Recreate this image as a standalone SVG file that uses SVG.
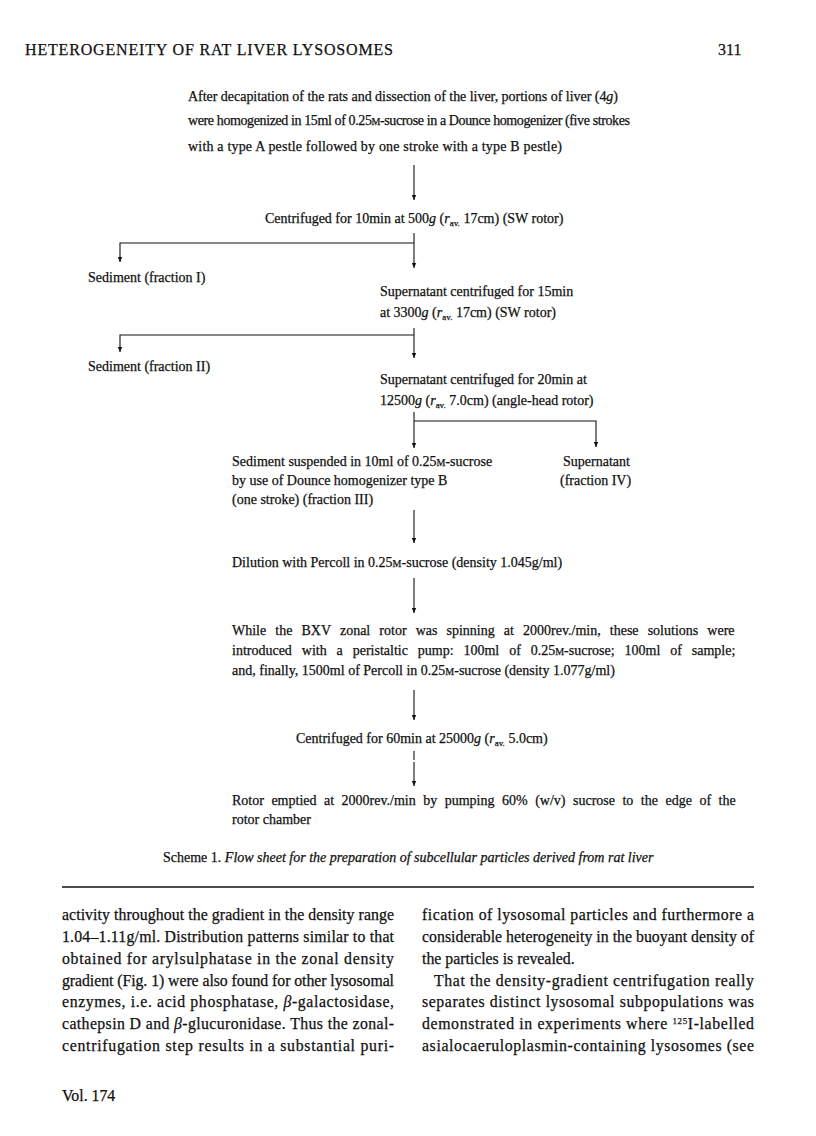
<svg xmlns="http://www.w3.org/2000/svg" width="816" height="1136" viewBox="0 0 816 1136">
<style>
text{font-family:"Liberation Serif","Times New Roman",serif;fill:#111;stroke:#111;stroke-width:0.25;}
.t{font-size:14px;}
.h{font-size:16px;}
.b{font-size:15.8px;}
.sm{font-size:10px;}
.sub{font-size:9px;}
.i{font-style:italic;}
.c line,.c polyline{stroke:#111;stroke-width:1.1;fill:none;}
</style>
<defs>
<marker id="ad" viewBox="0 0 8 10" refX="4" refY="9" markerWidth="5" markerHeight="6" markerUnits="userSpaceOnUse" orient="0">
<path d="M0,0 L4,9 L8,0 Z" fill="#111"/>
</marker>
</defs>
<rect width="816" height="1136" fill="#fff"/>

<g id="header">
<text class="h" x="25" y="55" textLength="368" lengthAdjust="spacing">HETEROGENEITY OF RAT LIVER LYSOSOMES</text>
<text class="h" x="718" y="55">311</text>
</g>

<g id="n1">
<text class="t" x="188" y="101" textLength="430" lengthAdjust="spacing">After decapitation of the rats and dissection of the liver, portions of liver (4<tspan class="i">g</tspan>)</text>
<text class="t" x="188" y="125" textLength="442" lengthAdjust="spacing">were homogenized in 15ml of 0.25<tspan class="sm">M</tspan>-sucrose in a Dounce homogenizer (five strokes</text>
<text class="t" x="188" y="151" textLength="374" lengthAdjust="spacing">with a type A pestle followed by one stroke with a type B pestle)</text>
</g>

<g id="n2">
<text class="t" x="265" y="223">Centrifuged for 10min at 500<tspan class="i">g</tspan> (<tspan class="i">r</tspan><tspan class="sub" dy="3">av.</tspan><tspan dy="-3"> 17cm) (SW rotor)</tspan></text>
</g>

<g id="n3">
<text class="t" x="88" y="282">Sediment (fraction I)</text>
</g>

<g id="n4">
<text class="t" x="380" y="296">Supernatant centrifuged for 15min</text>
<text class="t" x="380" y="317">at 3300<tspan class="i">g</tspan> (<tspan class="i">r</tspan><tspan class="sub" dy="3">av.</tspan><tspan dy="-3"> 17cm) (SW rotor)</tspan></text>
</g>

<g id="n5">
<text class="t" x="88" y="371">Sediment (fraction II)</text>
</g>

<g id="n6">
<text class="t" x="380" y="384">Supernatant centrifuged for 20min at</text>
<text class="t" x="380" y="405">12500<tspan class="i">g</tspan> (<tspan class="i">r</tspan><tspan class="sub" dy="3">av.</tspan><tspan dy="-3"> 7.0cm) (angle-head rotor)</tspan></text>
</g>

<g id="n7">
<text class="t" x="232" y="466">Sediment suspended in 10ml of 0.25<tspan class="sm">M</tspan>-sucrose</text>
<text class="t" x="232" y="485">by use of Dounce homogenizer type B</text>
<text class="t" x="232" y="504">(one stroke) (fraction III)</text>
</g>

<g id="n8">
<text class="t" x="563" y="466">Supernatant</text>
<text class="t" x="560" y="485">(fraction IV)</text>
</g>

<g id="n9">
<text class="t" x="232" y="567">Dilution with Percoll in 0.25<tspan class="sm">M</tspan>-sucrose (density 1.045g/ml)</text>
</g>

<g id="n10">
<text class="t" x="232" y="635" style="word-spacing:5.6px">While the BXV zonal rotor was spinning at 2000rev./min, these solutions were</text>
<text class="t" x="232" y="655" style="word-spacing:6.4px">introduced with a peristaltic pump: 100ml of 0.25<tspan class="sm">M</tspan>-sucrose; 100ml of sample;</text>
<text class="t" x="232" y="675">and, finally, 1500ml of Percoll in 0.25<tspan class="sm">M</tspan>-sucrose (density 1.077g/ml)</text>
</g>

<g id="n11">
<text class="t" x="296" y="743">Centrifuged for 60min at 25000<tspan class="i">g</tspan> (<tspan class="i">r</tspan><tspan class="sub" dy="3">av.</tspan><tspan dy="-3"> 5.0cm)</tspan></text>
</g>

<g id="n12">
<text class="t" x="232" y="805" style="word-spacing:4px">Rotor emptied at 2000rev./min by pumping 60% (w/v) sucrose to the edge of the</text>
<text class="t" x="232" y="824">rotor chamber</text>
</g>

<g id="caption">
<text class="t" x="163" y="862">Scheme 1. <tspan class="i">Flow sheet for the preparation of subcellular particles derived from rat liver</tspan></text>
</g>

<g id="connectors" class="c">
<line x1="414" y1="165" x2="414" y2="200" marker-end="url(#ad)"/>
<line x1="414" y1="233" x2="414" y2="268" marker-end="url(#ad)"/>
<polyline points="414,243 120,243 120,262" marker-end="url(#ad)"/>
<line x1="414" y1="328" x2="414" y2="358" marker-end="url(#ad)"/>
<polyline points="414,335 120,335 120,352" marker-end="url(#ad)"/>
<line x1="414" y1="412" x2="414" y2="448" marker-end="url(#ad)"/>
<polyline points="414,421 596,421 596,447" marker-end="url(#ad)"/>
<line x1="414" y1="510" x2="414" y2="543" marker-end="url(#ad)"/>
<line x1="414" y1="578" x2="414" y2="613" marker-end="url(#ad)"/>
<line x1="414" y1="690" x2="414" y2="720" marker-end="url(#ad)"/>
<line x1="414" y1="751" x2="414" y2="760"/>
<line x1="414" y1="762" x2="414" y2="786" marker-end="url(#ad)"/>
</g>

<g id="rule">
<line x1="62" y1="887" x2="754" y2="887" stroke="#111" stroke-width="1.5"/>
</g>

<g id="body-left">
<text class="b" x="62" y="920" textLength="332" lengthAdjust="spacing">activity throughout the gradient in the density range</text>
<text class="b" x="62" y="942" textLength="332" lengthAdjust="spacing">1.04–1.11g/ml. Distribution patterns similar to that</text>
<text class="b" x="62" y="964" textLength="332" lengthAdjust="spacing">obtained for arylsulphatase in the zonal density</text>
<text class="b" x="62" y="986" textLength="332" lengthAdjust="spacing">gradient (Fig. 1) were also found for other lysosomal</text>
<text class="b" x="62" y="1007" textLength="332" lengthAdjust="spacing">enzymes, i.e. acid phosphatase, <tspan class="i">β</tspan>-galactosidase,</text>
<text class="b" x="62" y="1029" textLength="332" lengthAdjust="spacing">cathepsin D and <tspan class="i">β</tspan>-glucuronidase. Thus the zonal-</text>
<text class="b" x="62" y="1051" textLength="332" lengthAdjust="spacing">centrifugation step results in a substantial puri-</text>
<text class="b" x="62" y="1101">Vol. 174</text>
</g>

<g id="body-right">
<text class="b" x="422" y="920" textLength="332" lengthAdjust="spacing">fication of lysosomal particles and furthermore a</text>
<text class="b" x="422" y="942" textLength="332" lengthAdjust="spacing">considerable heterogeneity in the buoyant density of</text>
<text class="b" x="422" y="964">the particles is revealed.</text>
<text class="b" x="434" y="986" textLength="320" lengthAdjust="spacing">That the density-gradient centrifugation really</text>
<text class="b" x="422" y="1007" textLength="332" lengthAdjust="spacing">separates distinct lysosomal subpopulations was</text>
<text class="b" x="422" y="1029" textLength="332" lengthAdjust="spacing">demonstrated in experiments where <tspan class="sub" dy="-5">125</tspan><tspan dy="5">I-labelled</tspan></text>
<text class="b" x="422" y="1051" textLength="332" lengthAdjust="spacing">asialocaeruloplasmin-containing lysosomes (see</text>
</g>
</svg>
